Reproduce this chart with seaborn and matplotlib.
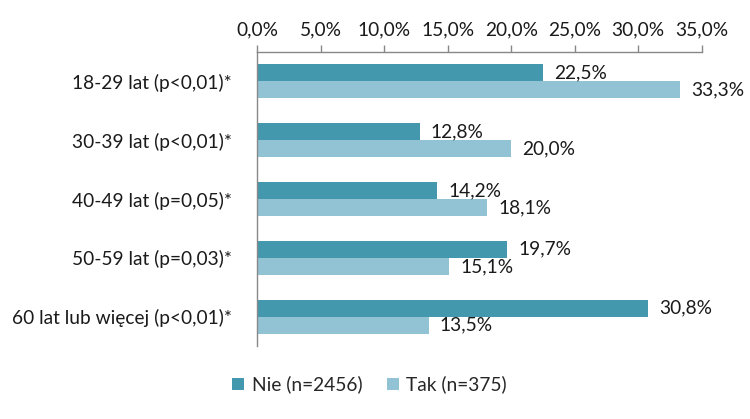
import matplotlib.pyplot as plt
import pandas as pd
import seaborn as sns

categories = [
    "18-29 lat (p<0,01)*",
    "30-39 lat (p<0,01)*",
    "40-49 lat (p=0,05)*",
    "50-59 lat (p=0,03)*",
    "60 lat lub więcej (p<0,01)*",
]
nie = [22.5, 12.8, 14.2, 19.7, 30.8]
tak = [33.3, 20.0, 18.1, 15.1, 13.5]
series = ["Nie (n=2456)", "Tak (n=375)"]
colors = ["#4398ae", "#92c3d5"]
ticks = [0, 5, 10, 15, 20, 25, 30, 35]

df = pd.DataFrame(
    {
        "group": categories * 2,
        "value": nie + tak,
        "series": [series[0]] * len(nie) + [series[1]] * len(tak),
    }
)

sns.set_style("white")
plt.rcParams["font.family"] = ["Lato", "DejaVu Sans"]
fs = 13.8
txt = "#1a1a1a"

fig = plt.figure(figsize=(7.5, 4.19), dpi=100)
ax = fig.add_axes([0.3427, 0.174, 0.593, 0.702])
sns.barplot(
    data=df,
    x="value",
    y="group",
    hue="series",
    order=categories,
    hue_order=series,
    palette=colors,
    orient="h",
    width=0.58,
    saturation=1,
    linewidth=0,
    ax=ax,
)

for cont in ax.containers:
    labels = [f"{v:.1f}".replace(".", ",") + "%" for v in cont.datavalues]
    ax.bar_label(cont, labels=labels, padding=8, fontsize=fs, color=txt)

ax.set_xlim(0, 35)
ax.set_ylim(4.5, -0.5)
ax.set_xticks(ticks)
ax.set_xticklabels([f"{t:.1f}".replace(".", ",") + "%" for t in ticks])
ax.xaxis.set_ticks_position("top")
ax.xaxis.set_label_position("top")
ax.tick_params(axis="x", direction="out", length=5, width=1, color="#888888",
               labelsize=fs, pad=5, labelcolor=txt)
ax.tick_params(axis="y", length=0, labelsize=fs, pad=18, labelcolor=txt)
ax.set_xlabel("")
ax.set_ylabel("")
for side in ["right", "bottom"]:
    ax.spines[side].set_visible(False)
for side in ["left", "top"]:
    ax.spines[side].set_color("#888888")
    ax.spines[side].set_linewidth(1)

ax.legend_.remove()
handles, labels = ax.get_legend_handles_labels()
fig.legend(
    handles,
    labels,
    loc="center",
    bbox_to_anchor=(0.493, 0.082),
    ncol=2,
    frameon=False,
    fontsize=fs,
    handlelength=0.6,
    handleheight=0.6,
    handletextpad=0.4,
    columnspacing=1.3,
)

fig.savefig("out.png", dpi=100)
